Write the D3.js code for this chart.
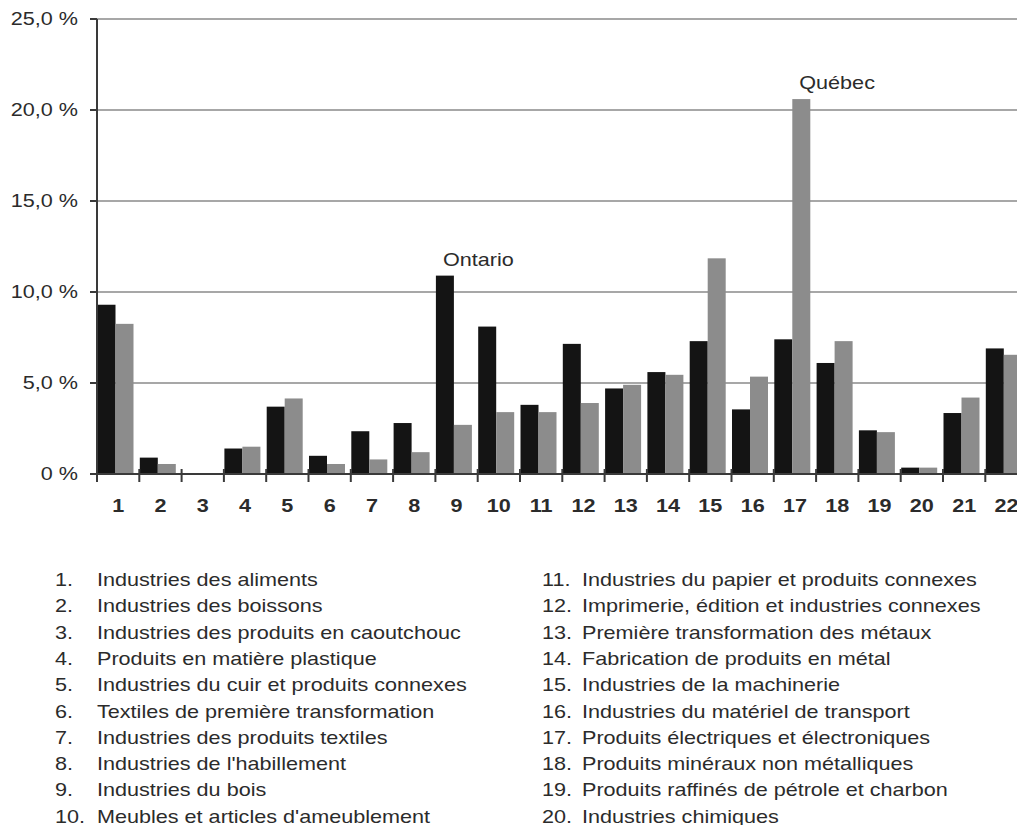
<!DOCTYPE html>
<meta charset="utf-8">
<style>
  body { margin: 0; background: #fff; }
  text { font-family: "Liberation Sans", Arial, sans-serif; fill: #2b2b2b; }
</style>
<script src="https://d3js.org/d3.v7.min.js"></script>
<body>
<div id="chart"></div>
<script>

// categories 1..22
var categories = d3.range(1, 23).map(String);
var ontario = [9.3, 0.9, 0, 1.4, 3.7, 1.0, 2.35, 2.8, 10.9, 8.1, 3.8, 7.15, 4.7, 5.6, 7.3, 3.55, 7.4, 6.1, 2.4, 0.35, 3.35, 6.9];
var quebec  = [8.25, 0.55, 0, 1.5, 4.15, 0.55, 0.8, 1.2, 2.7, 3.4, 3.4, 3.9, 4.9, 5.45, 11.85, 5.35, 20.6, 7.3, 2.3, 0.35, 4.2, 6.55];
var yTicks = [0, 5, 10, 15, 20, 25];
var yTickLabels = ["0 %", "5,0 %", "10,0 %", "15,0 %", "20,0 %", "25,0 %"];

var notes = ["Ontario", "Québec"];
var noteCat = ["9", "17"];
var noteSeries = ["ont", "que"];

var legendNums = d3.range(1, 21).map(function(d) { return d + "."; });
var legendLabels = [
  "Industries des aliments",
  "Industries des boissons",
  "Industries des produits en caoutchouc",
  "Produits en matière plastique",
  "Industries du cuir et produits connexes",
  "Textiles de première transformation",
  "Industries des produits textiles",
  "Industries de l'habillement",
  "Industries du bois",
  "Meubles et articles d'ameublement",
  "Industries du papier et produits connexes",
  "Imprimerie, édition et industries connexes",
  "Première transformation des métaux",
  "Fabrication de produits en métal",
  "Industries de la machinerie",
  "Industries du matériel de transport",
  "Produits électriques et électroniques",
  "Produits minéraux non métalliques",
  "Produits raffinés de pétrole et charbon",
  "Industries chimiques"
];

var width = 1017,
    height = 825,
    left = 97,
    step = 42.3,
    top0 = 19,
    base = 474,
    sx = 1.2;   // the scanned text is wider than the font

var svg = d3.select("#chart").append("svg")
    .attr("width", width)
    .attr("height", height);

var x = d3.scaleBand()
    .domain(categories)
    .range([left, left + step * categories.length])
    .padding(0);

var x1 = d3.scaleBand()
    .domain(["ont", "que"])
    .range([0.5, 36.5]);

var y = d3.scaleLinear()
    .domain([0, 25])
    .range([base, top0]);

var color = { ont: "#141414", que: "#8c8c8c" };

var rows = categories.map(function(c, i) {
  return { cat: c, ont: ontario[i], que: quebec[i] };
});

// grid lines
svg.append("g")
  .selectAll("line")
  .data(yTicks.filter(function(d) { return d > 0; }))
  .enter().append("line")
    .attr("x1", left).attr("x2", width)
    .attr("y1", function(d) { return y(d); })
    .attr("y2", function(d) { return y(d); })
    .attr("stroke", "#8a8a8a")
    .attr("stroke-width", 1.6);

// bars
var grp = svg.append("g")
  .selectAll("g")
  .data(rows)
  .enter().append("g")
    .attr("transform", function(d) { return "translate(" + x(d.cat) + ",0)"; });

grp.selectAll("rect")
  .data(function(d) { return ["ont", "que"].map(function(k) { return { key: k, value: d[k] }; }); })
  .enter().append("rect")
    .attr("x", function(d) { return x1(d.key); })
    .attr("width", x1.bandwidth())
    .attr("y", function(d) { return y(d.value); })
    .attr("height", function(d) { return base - y(d.value); })
    .attr("fill", function(d) { return color[d.key]; });

// y axis
svg.append("line")
  .attr("x1", left).attr("x2", left)
  .attr("y1", y(25)).attr("y2", base)
  .attr("stroke", "#3a3a3a").attr("stroke-width", 2);

svg.append("g")
  .selectAll("line")
  .data(yTicks)
  .enter().append("line")
    .attr("x1", left - 7).attr("x2", left)
    .attr("y1", function(d) { return y(d); })
    .attr("y2", function(d) { return y(d); })
    .attr("stroke", "#3a3a3a").attr("stroke-width", 2);

svg.append("g")
  .selectAll("text")
  .data(yTicks)
  .enter().append("text")
    .attr("transform", function(d) { return "translate(78," + y(d) + ") scale(" + sx + ",1)"; })
    .attr("dy", "0.36em")
    .attr("text-anchor", "end")
    .style("font-size", "18px")
    .text(function(d, i) { return yTickLabels[i]; });

// x axis
svg.append("line")
  .attr("x1", left).attr("x2", width)
  .attr("y1", base).attr("y2", base)
  .attr("stroke", "#3a3a3a").attr("stroke-width", 2);

svg.append("g")
  .selectAll("line")
  .data(categories)
  .enter().append("line")
    .attr("x1", function(d) { return x(d); })
    .attr("x2", function(d) { return x(d); })
    .attr("y1", base - 5).attr("y2", base + 8)
    .attr("stroke", "#3a3a3a").attr("stroke-width", 2);

svg.append("g")
  .selectAll("text")
  .data(categories)
  .enter().append("text")
    .attr("transform", function(d) { return "translate(" + (x(d) + x.bandwidth() / 2) + ",512) scale(" + sx + ",1)"; })
    .attr("text-anchor", "middle")
    .style("font-size", "18px")
    .style("font-weight", "bold")
    .text(function(d) { return d; });

// annotations
svg.append("g")
  .selectAll("text")
  .data(notes)
  .enter().append("text")
    .attr("transform", function(d, i) {
      var c = noteCat[i], k = noteSeries[i];
      var v = rows[categories.indexOf(c)][k];
      return "translate(" + (x(c) + x1(k) + 7) + "," + (y(v) - 10) + ") scale(" + sx + ",1)";
    })
    .style("font-size", "18px")
    .text(function(d) { return d; });

// legend
var leg = svg.append("g")
  .selectAll("g")
  .data(legendLabels)
  .enter().append("g")
    .attr("transform", function(d, i) {
      var col = Math.floor(i / 10), row = i % 10;
      return "translate(0," + (586 + row * 26.3) + ")";
    });

leg.append("text")
  .attr("transform", function(d, i) { return "translate(" + (i < 10 ? 55 : 542) + ",0) scale(" + sx + ",1)"; })
  .style("font-size", "18px")
  .text(function(d, i) { return legendNums[i]; });

leg.append("text")
  .attr("transform", function(d, i) { return "translate(" + (i < 10 ? 97 : 582) + ",0) scale(" + sx + ",1)"; })
  .style("font-size", "18px")
  .text(function(d) { return d; });

</script>
</body>
